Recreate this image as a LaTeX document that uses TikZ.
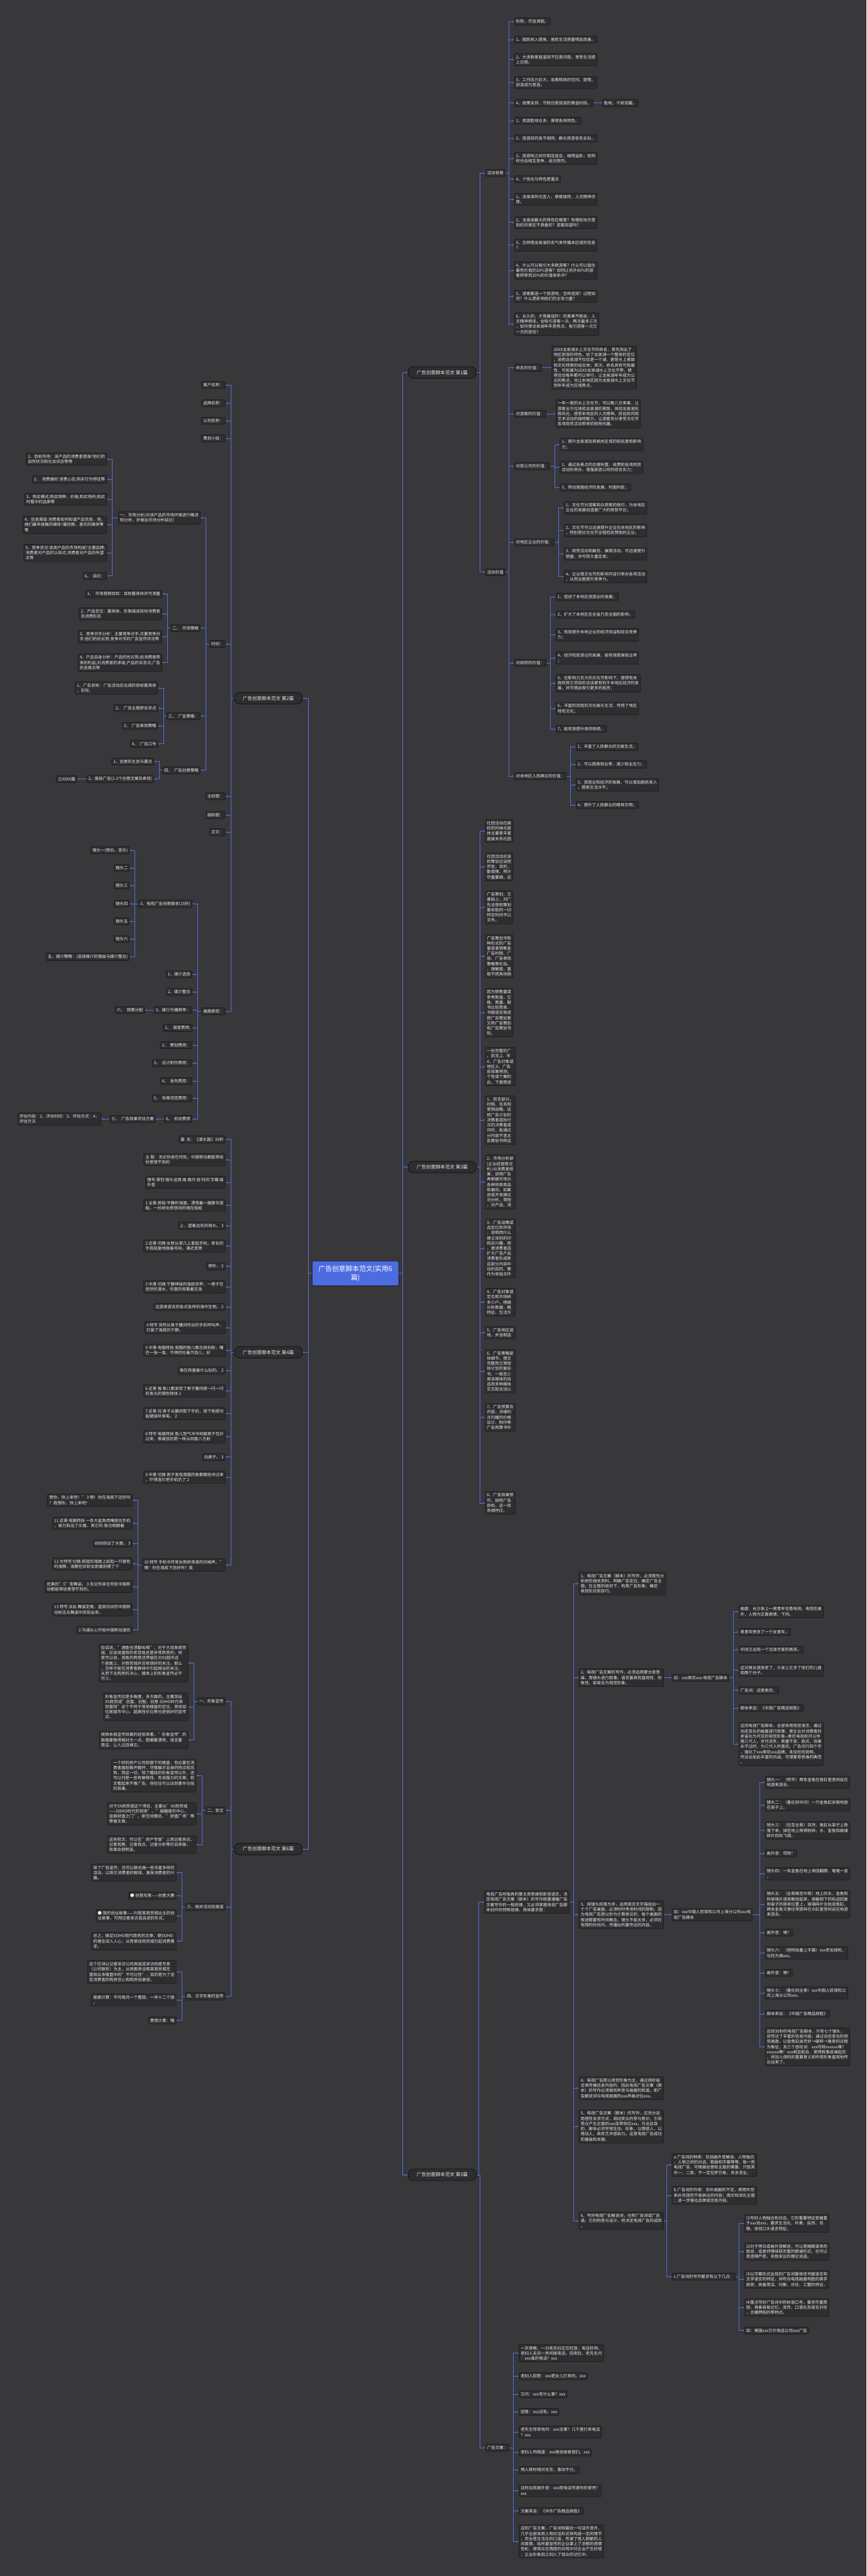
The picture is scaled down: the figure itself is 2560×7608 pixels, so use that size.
\documentclass[tikz,border=0pt]{standalone}
\usepackage{fontspec}
\setmainfont{Noto Sans CJK SC}
\usetikzlibrary{arrows.meta}
\definecolor{bg}{RGB}{56,55,58}
\definecolor{boxfill}{RGB}{46,45,48}
\definecolor{boxline}{RGB}{20,20,22}
\definecolor{txt}{RGB}{236,236,236}
\definecolor{lineblue}{RGB}{84,112,222}
\definecolor{rootblue}{RGB}{77,108,224}
\tikzset{
  box/.style={draw=boxline, fill=boxfill, rounded corners=3pt, text=txt, font=\fontsize{12pt}{15.3pt}\selectfont, align=left, inner xsep=5pt, inner ysep=5pt, line width=0.9pt},
  bnode/.style={draw=black, fill=boxfill, rounded corners=16pt, text=txt, font=\fontsize{14pt}{17pt}\selectfont, minimum width=202pt, minimum height=34pt, line width=1pt},
  rootnode/.style={draw=black, fill=rootblue, rounded corners=4pt, text=white, font=\fontsize{20pt}{25.5pt}\selectfont, align=center, minimum width=256pt, minimum height=73pt, line width=1pt},
  conn/.style={draw=lineblue, line width=1.4pt, -{Stealth[length=6pt,width=5pt]}},
}
\newcommand\linkR[2]{\foreach \cc in {#2}{\draw[conn] (#1.east) -| ([xshift=-16pt]\cc.west) -- (\cc.west);}}
\newcommand\linkL[2]{\foreach \cc in {#2}{\draw[conn] (#1.west) -| ([xshift=16pt]\cc.east) -- (\cc.east);}}
\begin{document}
\begin{tikzpicture}[x=1pt,y=-1pt]
\fill[bg] (0,0) rectangle (2560,7608);
\useasboundingbox (0,0) rectangle (2560,7608);
% root and branches
\node[rootnode] (root) at (1050,3761) {广告创意脚本范文(实用6\\篇)};
\node[bnode,anchor=west] (b1) at (1205,1100) {广告创意脚本范文 第1篇};
\node[bnode,anchor=west] (b3) at (1205,3447) {广告创意脚本范文 第3篇};
\node[bnode,anchor=west] (b5) at (1205,6423) {广告创意脚本范文 第5篇};
\node[bnode,anchor=east] (b2) at (894,2062) {广告创意脚本范文 第2篇};
\node[bnode,anchor=east] (b4) at (894,3994) {广告创意脚本范文 第4篇};
\node[bnode,anchor=east] (b6) at (894,5461) {广告创意脚本范文 第6篇};
\linkR{root}{b1,b3,b5}
\linkL{root}{b2,b4,b6}
% ===== 第1篇 =====
\node[box,anchor=west] (a1) at (1434,511) {活动背景};
\node[box,anchor=west] (a2) at (1434,1690) {活动价值};
\linkR{b1}{a1,a2}
\node[box,anchor=west] (g1) at (1519,64) {形势，尽显洒脱。};
\node[box,anchor=west] (g2) at (1519,117) {1、国民收入提高，居民生活质量明显改善。};
\node[box,anchor=west] (g3) at (1519,176) {2、大多数家庭温饱不在是问题，享受生活提\\上日程。};
\node[box,anchor=west] (g4) at (1519,244) {3、工作压力巨大，急需释放的空间，度假、\\旅游成为首选。};
\node[box,anchor=west] (g5) at (1519,304) {4、政策支持，节假日是旅游的黄金时段。};
\node[box,anchor=west] (g5a) at (1779,304) {胜地，千娇百媚。};
\node[box,anchor=west] (g6) at (1519,357) {1、旅游胜地众多，景观各具特色。};
\node[box,anchor=west] (g7) at (1519,409) {2、旅游目的各不相同，群众旅游各有去处。};
\node[box,anchor=west] (g8) at (1519,468) {3、旅游地之间可相互组合，相得益彰；但同\\时也会相互竞争，战况惨烈。};
\node[box,anchor=west] (g9) at (1519,529) {4、个性化与特色是重点};
\node[box,anchor=west] (g10) at (1519,589) {1、龙泉湖风光宜人，景致独特，人文精神浓\\厚。};
\node[box,anchor=west] (g11) at (1519,657) {2、龙泉湖最大的特色在哪里？有哪些地方是\\别的风景区不具备的？游客知道吗？};
\node[box,anchor=west] (g12) at (1519,724) {3、怎样借龙泉湖的名气来传播本区域的信息\\？};
\node[box,anchor=west] (g13) at (1519,799) {4、什么可以吸引大多数游客？什么可以留住\\最有价值的20\%游客？如何让另外80\%的游\\客转移到20\%的价值体系中？};
\node[box,anchor=west] (g14) at (1519,875) {5、游客要选一个旅游地，怎样选择？过程如\\何？什么是影响他们的主导力量？};
\node[box,anchor=west] (g15) at (1519,957) {6、长久的，才是最佳的！风景美不胜收，人\\文精神俱佳，会吸引游客一次、两次最多三次\\，如何使龙泉湖年年是焦点、吸引游客一次又\\一次的游览？};
\linkR{a1}{g1,g2,g3,g4,g5,g6,g7,g8,g9,g10,g11,g12,g13,g14,g15}
\linkR{g5}{g5a}
\node[box,anchor=west] (v1) at (1519,1086) {命名的价值：};
\node[box,anchor=west] (v2) at (1519,1222) {对游客的价值：};
\node[box,anchor=west] (v3) at (1519,1377) {对旅公司的价值：};
\node[box,anchor=west] (v4) at (1519,1602) {对地区企业的价值：};
\node[box,anchor=west] (v5) at (1519,1958) {对政府的价值：};
\node[box,anchor=west] (v6) at (1519,2292) {对本地区人民群众的价值：};
\linkR{a2}{v1,v2,v3,v4,v5,v6}
\node[box,anchor=west] (v1a) at (1630,1086) {20XX龙泉湖水上文化节的命名，首先突出了\\地区旅游的特色，给了龙泉湖一个整体的定位\\，说明龙泉湖不仅仅是一个湖，更是水上景致\\和文化特质的结合体；其次，命名具有可拓展\\性，可拓展为20XX龙泉湖水上文化节等，使\\得活动每年都可以举行，让龙泉湖年年成为公\\众的焦点，也让本地区因为龙泉湖水上文化节\\而年年成为区域焦点。};
\linkR{v1}{v1a}
\node[box,anchor=west] (v2a) at (1642,1222) {一年一度的水上文化节，可以聚八方来客，让\\游客全方位体验龙泉湖的景致，体验龙泉湖无\\限风光，感受本地区的人文精神、民俗民风和\\艺术活动的独特魅力，让游客充分享受文化节\\各项商贸活动带来的购物乐趣。};
\linkR{v2}{v2a}
\node[box,anchor=west] (v3a) at (1654,1313) {1、提升龙泉湖及其相关区域的知名度和影响\\力；};
\node[box,anchor=west] (v3b) at (1654,1380) {2、通过各景点的合理布置、收费和各项商贸\\活动的举办，增强旅游公司的综合实力；};
\node[box,anchor=west] (v3c) at (1654,1440) {3、带动周围经济的发展，利国利民；};
\linkR{v3}{v3a,v3b,v3c}
\node[box,anchor=west] (v4a) at (1666,1500) {1、文化节对游客和众商家的吸引，为本地区\\企业的发展创造更广大的商贸平台；};
\node[box,anchor=west] (v4b) at (1666,1567) {2、文化节可以迅速提升企业在本地区的影响\\，特别是对文化节全程冠名赞助的企业；};
\node[box,anchor=west] (v4c) at (1666,1636) {3、商贸活动和展览、展销活动，可迅速提升\\销量，并可获大量定单；};
\node[box,anchor=west] (v4d) at (1666,1703) {4、企业借文化节的影响可自行举办各项活动\\，从而全面提升竞争力。};
\linkR{v4}{v4a,v4b,v4c,v4d}
\node[box,anchor=west] (v5a) at (1642,1763) {1、促进了本地区旅游业的发展；};
\node[box,anchor=west] (v5b) at (1642,1815) {2、扩大了本地区在全省乃至全国的影响；};
\node[box,anchor=west] (v5c) at (1642,1875) {3、有效提升本地企业的经济效益和综合竞争\\力；};
\node[box,anchor=west] (v5d) at (1642,1943) {4、经济和旅游业的发展，能有效提高就业率\\；};
\node[box,anchor=west] (v5e) at (1642,2018) {5、在影响力巨大的文化节影响下，使得有关\\政府其它项目的洽谈更有利于本地区经济的发\\展，并可借此吸引更多的投资；};
\node[box,anchor=west] (v5f) at (1642,2093) {6、丰富的百姓的文化娱乐生活，传扬了地区\\特有文化；};
\node[box,anchor=west] (v5g) at (1642,2153) {7、能有效提升政府政绩。};
\linkR{v5}{v5a,v5b,v5c,v5d,v5e,v5f,v5g}
\node[box,anchor=west] (v6a) at (1701,2206) {1、丰富了人民群众的文娱生活；};
\node[box,anchor=west] (v6b) at (1701,2258) {2、可以提高就业率，减少就业压力；};
\node[box,anchor=west] (v6c) at (1701,2318) {3、旅游业和经济的发展，可以增加居民收入\\，提高生活水平；};
\node[box,anchor=west] (v6d) at (1701,2378) {4、提升了人民群众的精神文明；};
\linkR{v6}{v6a,v6b,v6c,v6d}
% ===== 第2篇 =====
\node[box,anchor=east] (k1) at (666,1137) {客户名称：};
\node[box,anchor=east] (k2) at (666,1191) {品牌名称：};
\node[box,anchor=east] (k3) at (666,1243) {公司名称：};
\node[box,anchor=east] (k4) at (666,1295) {策划小组：};
\node[box,anchor=east] (k5) at (666,1902) {时间：};
\node[box,anchor=east] (k6) at (666,2352) {主标题：};
\node[box,anchor=east] (k7) at (666,2407) {副标题：};
\node[box,anchor=east] (k8) at (666,2458) {正文：};
\node[box,anchor=east] (k9) at (666,2987) {画面表现：};
\linkL{b2}{k1,k2,k3,k4,k5,k6,k7,k8,k9}
\node[box,anchor=east] (m1) at (592,1529) {一、市场分析(对该产品的市场环境进行概述\\和分析，并做出市场分析结论)};
\node[box,anchor=east] (m2) at (592,1855) {二、~~市场策略};
\node[box,anchor=east] (m3) at (592,2115) {三、~~广告策略：};
\node[box,anchor=east] (m4) at (592,2275) {四、~~广告创意策略};
\linkL{k5}{m1,m2,m3,m4}
\node[box,anchor=east] (m1a) at (316,1356) {1、目标市场：该产品的消费者是谁?他们的\\自然状况和社会状态等等};
\node[box,anchor=east] (m1b) at (316,1416) {2、~~消费偏好:消费心态;购买行为特征等};
\node[box,anchor=east] (m1c) at (316,1475) {3、购买模式:购买频率、价格;购买场所;购买\\时看中的品质等};
\node[box,anchor=east] (m1d) at (316,1550) {4、信息渠道:消费者如何知道产品信息，他、\\她们最早接触的媒体?最信赖、喜欢的媒体等\\等};
\node[box,anchor=east] (m1e) at (316,1633) {5、竞争状况:该类产品的市场构成?主要品牌;\\消费者对产品的认知点;消费者对产品的失望\\点等};
\node[box,anchor=east] (m1f) at (316,1701) {6、~~结论：};
\linkL{m1}{m1a,m1b,m1c,m1d,m1e,m1f}
\node[box,anchor=east] (m2a) at (479,1754) {1、~~市场营销目标：目标要具体并可测量};
\node[box,anchor=east] (m2b) at (479,1813) {2、产品定位：要具体、形象描述目标消费者\\及消费形态};
\node[box,anchor=east] (m2c) at (479,1881) {3、竞争对手分析：主要竞争对手;次要竞争对\\手;他们的优劣势;竞争对手的广告宣传状况等};
\node[box,anchor=east] (m2d) at (479,1957) {4、产品自身分析：产品的优劣势;给消费者带\\来的利益;对消费者的承诺;产品的诉求点;广告\\的支撑点等};
\linkL{m2}{m2a,m2b,m2c,m2d}
\node[box,anchor=east] (m3a) at (467,2032) {1、广告目标：广告活动应达成的目标要具体\\、实际;};
\node[box,anchor=east] (m3b) at (467,2092) {2、~~广告主题即诉求点};
\node[box,anchor=east] (m3c) at (467,2144) {3、~~广告表现策略};
\node[box,anchor=east] (m3d) at (467,2197) {4、~~广告口号};
\linkL{m3}{m3a,m3b,m3c,m3d}
\node[box,anchor=east] (m4a) at (455,2249) {1、创意的主旨与要点};
\node[box,anchor=east] (m4b) at (455,2301) {2、报纸广告(1-2个创意文案及表现)};
\linkL{m4}{m4a,m4b}
\node[box,anchor=east] (m4c) at (228,2301) {之XXXX篇};
\linkL{m4b}{m4c}
\node[box,anchor=east] (p1) at (568,2669) {3、电视广告创意脚本(15秒)};
\node[box,anchor=east] (p2) at (568,2878) {1、媒介选择};
\node[box,anchor=east] (p3) at (568,2930) {2、媒介整合};
\node[box,anchor=east] (p4) at (568,2983) {3、媒介刊播频率：};
\node[box,anchor=east] (p5) at (568,3036) {1、~~调查费用;};
\node[box,anchor=east] (p6) at (568,3087) {2、~~策划费用：};
\node[box,anchor=east] (p7) at (568,3140) {3、~~设计制作费用：};
\node[box,anchor=east] (p8) at (568,3193) {4、~~发布费用：};
\node[box,anchor=east] (p9) at (568,3244) {5、~~效果测定费用：};
\node[box,anchor=east] (p10) at (568,3305) {6、~~机动费用};
\linkL{k9}{p1,p2,p3,p4,p5,p6,p7,p8,p9,p10}
\node[box,anchor=east] (q1) at (383,2511) {镜头一(旁白、音乐)};
\node[box,anchor=east] (q2) at (383,2564) {镜头二};
\node[box,anchor=east] (q3) at (383,2615) {镜头三};
\node[box,anchor=east] (q4) at (383,2669) {镜头四};
\node[box,anchor=east] (q5) at (383,2721) {镜头五};
\node[box,anchor=east] (q6) at (383,2773) {镜头六};
\node[box,anchor=east] (q7) at (383,2826) {五、媒介策略：(选择媒介的理由与媒介整合)};
\linkL{p1}{q1,q2,q3,q4,q5,q6,q7}
\node[box,anchor=east] (p4a) at (428,2983) {六、~~预算分配};
\linkL{p4}{p4a}
\node[box,anchor=east] (p10a) at (460,3305) {七、~~广告效果评估方案};
\linkL{p10}{p10a}
\node[box,anchor=east] (p10b) at (299,3305) {评估内容：2、评估时间：3、评估方式：4、\\评估方法};
\linkL{p10a}{p10b}
% ===== 第4篇 =====
\node[box,anchor=east] (s1) at (666,3365) {篇~~名：《潜水篇》30秒};
\node[box,anchor=east] (s2) at (666,3425) {主~题：无论你身在何处，中国移动都能带给\\你意想不到的};
\node[box,anchor=east] (s3) at (666,3492) {镜号~景别~镜头运用~画~面内~容~时间~字幕~画\\外音};
\node[box,anchor=east] (s4) at (666,3560) {1~全景~俯拍~平静的海面，漂荡着一艘豪华游\\艇。一妙龄女郎悠闲的倚在船舷};
\node[box,anchor=east] (s5) at (666,3620) {上，望着远处的海水。~3};
\node[box,anchor=east] (s6) at (666,3680) {2~近景~切换~女郎从茶几上拿起手机，修长的\\手指轻盈地拨着号码，凑近耳旁};
\node[box,anchor=east] (s7) at (666,3740) {倾听，~2};
\node[box,anchor=east] (s8) at (666,3801) {3~中景~切换~宁静神秘的海底世界，一男子在\\悠然的潜水，欣喜的观看着在身};
\node[box,anchor=east] (s9) at (666,3860) {边游来游去的各式各样的海中生物。~2};
\node[box,anchor=east] (s10) at (666,3921) {4~特写~突然从男子腰间传出的手机呼叫声，\\打破了海底的宁静。};
\node[box,anchor=east] (s11) at (666,3988) {5~中景~电脑特技~周围的鱼儿都左顾右盼，嘴\\巴一张一翕，不停的吐着汽泡儿，好};
\node[box,anchor=east] (s12) at (666,4048) {像在商量着什么似的。~2};
\node[box,anchor=east] (s13) at (666,4108) {6~近景~推~鱼儿都发现了男子腰间那一闪一闪\\的发光的银色物体~2};
\node[box,anchor=east] (s14) at (666,4175) {7~近景~拉~男子从腰间取下手机，按下免提功\\能键接听来电。~2};
\node[box,anchor=east] (s15) at (666,4243) {8~特写~电脑特技~鱼儿怒气冲冲地朝男子包抄\\过来，像离弦的箭一样从四面八方射};
\node[box,anchor=east] (s16) at (666,4303) {向男子。~3};
\node[box,anchor=east] (s17) at (666,4363) {9~中景~切换~男子发现周围的鱼都朝他冲过来\\，吓得连忙把手机仍了~2};
\node[box,anchor=east] (s18) at (666,4622) {10~特写~手机中传来女郎娇滴滴的问候声。"\\喂！你在海底下还好吗？我};
\linkL{b4}{s1,s2,s3,s4,s5,s6,s7,s8,s9,s10,s11,s12,s13,s14,s15,s16,s17,s18}
\node[box,anchor=east] (u1) at (391,4431) {想你，快上来吧！"~3~喂！你在海底下还好吗\\？我想你，快上来吧！};
\node[box,anchor=east] (u2) at (391,4499) {11~近景~电脑特技~一条大鲨鱼用嘴接住手机\\，奋力跃出了水面，其它的.鱼也相跟着};
\node[box,anchor=east] (u3) at (391,4559) {纷纷跃出了水面。~3};
\node[box,anchor=east] (u4) at (391,4619) {12~大特写~切换~蔚蓝的海面上跃起一只银色\\的海豚，海豚在妙龄女郎面前摆了个};
\node[box,anchor=east] (u5) at (391,4686) {优美的"S"型舞姿。~3~无论你身在何处中国移\\动都能带给意想不到的。};
\node[box,anchor=east] (u6) at (391,4754) {13~特写~淡出~舞姿定格，蓝底白纹的中国移\\动标志从舞姿中突现出来。};
\node[box,anchor=east] (u7) at (391,4814) {2~沟通从心开始中国移动通信};
\linkL{s18}{u1,u2,u3,u4,u5,u6,u7}
% ===== 第6篇 =====
\node[box,anchor=east] (w1) at (666,5025) {一、形象宣传};
\node[box,anchor=east] (w2) at (666,5347) {二、软文};
\node[box,anchor=east] (w3) at (666,5632) {三、相关活动及报道};
\node[box,anchor=east] (w4) at (666,5896) {四、文字形象的宣传};
\linkL{b6}{w1,w2,w3,w4}
\node[box,anchor=east] (w1a) at (556,4912) {俗话说，"酒香也须勤吆喝"，对于大润发商贸\\城，应该说富阳的老百姓还是非常熟悉的。但\\是可以说，百姓的熟悉还停留在对XX超市这\\个层面上，对商贸城并没有很好的关注。那么\\，怎样才能在消费者群体中引起相当的关注，\\从而下达购房的决心，媒体上的形象宣传必不\\可少。};
\node[box,anchor=east] (w1b) at (556,5041) {形象宣传应是多角度、多方面的。主要突出\\XX商贸城"创富、创智、创意~SOHO时代来\\到富阳"这个不同于其他楼盘的定位，其他如\\位居城市中心、超高性价比等也是很好的宣传\\点。};
\node[box,anchor=east] (w1c) at (556,5139) {按照本报宣传效果的经验来看，"形象宣传"的\\版面要做得相对大一点，图案要漂亮，语言要\\简洁，让人过目难忘。};
\linkL{w1}{w1a,w1b,w1c}
\node[box,anchor=east] (w2a) at (580,5244) {一个好的房产公司和旗下的楼盘，有必要在消\\费者面前敞开胸怀，尽情展示自身的特点和优\\势。而这一切，除了醒目的形象宣传以外，还\\可以刊登一些有解释性、有说服力的文章。软\\文看起来不像广告，但往往可以达到事半功倍\\的效果。};
\node[box,anchor=east] (w2b) at (580,5357) {对于XX商贸城这个项目，主要从"XX商贸城\\——SOHO时代的到来"、"雄踞城市中心，\\显赫财富之门"、新空间理念、"财富广场"等\\等做文章。};
\node[box,anchor=east] (w2c) at (580,5448) {这些软文，可以在"房产专版"上用记者采访、\\记者观察、记者视点、记者分析等栏目来做，\\效果会很明显。};
\linkL{w2}{w2a,w2b,w2c}
\node[box,anchor=east] (w3a) at (521,5531) {除了广告宣传，还可以联合搞一些丰富多样的\\活动，以吸引消费者的眼球、激发消费者的兴\\趣。};
\node[box,anchor=east] (w3b) at (521,5599) {● 创意无限——创意大赛};
\node[box,anchor=east] (w3c) at (521,5658) {● 我的创业故事——刊登某商贸城业主的创\\业故事，可用记者采访或自述的形式。};
\node[box,anchor=east] (w3d) at (521,5733) {总之，做足SOHO现代商务的文章，使SOHO\\的理念深入人心，从而使该商贸城引起消费需\\求。};
\linkL{w3}{w3a,w3b,w3c,w3d}
\node[box,anchor=east] (w4a) at (521,5824) {这个区块以记者采访公司高层或采访权威专家\\（公司联系）为主，从侧面来诠释某商贸城在\\富阳众多楼盘中的"不可比性"，目的是为了坚\\定消费者的购房信心和购房自豪感。};
\node[box,anchor=east] (w4b) at (521,5907) {版面计算：平均每月一个整版，一年十二个版\\。};
\node[box,anchor=east] (w4c) at (521,5967) {费用计算：略};
\linkL{w4}{w4a,w4b,w4c}
% ===== 第3篇 =====
\node[box,anchor=west] (t1) at (1433,2454) {社团活动在高\\校的时候也尝\\体主要是丰富\\直接关系社团};
\node[box,anchor=west] (t2) at (1433,2560) {社团活动应该\\的策划应该把\\宗旨，目的，\\勤保障、预计\\尽量要细，这};
\node[box,anchor=west] (t3) at (1433,2680) {广告策划，又\\基础上，对广\\先设想和策划\\要采取的一切\\特定时间予以\\文件。};
\node[box,anchor=west] (t4) at (1433,2824) {广告策划书有\\种形式的广告\\量或者销售金\\广告时限、广\\容、广告表现\\策略等栏目。\\、理解度、喜\\般不把具体销};
\node[box,anchor=west] (t5) at (1433,2991) {因为销售量或\\参考数值，它\\格、质量、服\\书比较简单，\\书面语言叙述\\把广告策划意\\又称广告策划\\和广告策划书\\别。};
\node[box,anchor=west] (t6) at (1433,3150) {一份完整的广\\、前言;2、市\\4、广告对象或\\地区;6、广告\\告效果预测。\\个性或个案的\\此。下面简述};
\node[box,anchor=west] (t7) at (1433,3308) {1、前言部分，\\时限、任务和\\营销战略。这\\把广告计划的\\决策者或执行\\次的决策者或\\问时，能通过\\分内容不宜太\\告策划书称这};
\node[box,anchor=west] (t8) at (1433,3491) {2、市场分析部\\)企业经营情况\\析;(4)消费者研\\果，说明广告\\再根据市场分\\各种同类商品\\和偏向。如果\\进或开发建议\\况分析，简短\\，对产品、消};
\node[box,anchor=west] (t9) at (1433,3687) {3、广告战略或\\品定位和市场\\，说明用什么\\建立深刻的印\\购买兴趣，用\\，使消费者选\\扩大广告产品\\消费者形成新\\这部分内容中\\动的目的、策\\作为单独文件};
\node[box,anchor=west] (t10) at (1433,3846) {4、广告对象或\\定位和市场研\\多少户。根据\\分析数据，概\\特征、生活方};
\node[box,anchor=west] (t11) at (1433,3936) {5、广告地区或\\场，并说明选};
\node[box,anchor=west] (t12) at (1433,4050) {6、广告策略部\\体细节。撰文\\完整而又简短\\体计划的复杂\\书。一般至少\\用该媒体的目\\选用多种媒体\\交叉配合加以};
\node[box,anchor=west] (t13) at (1433,4186) {7、广告预算及\\内容，详细列\\次刊播的价格\\设计、制作等\\广告预算书中};
\node[box,anchor=west] (t14) at (1433,4439) {8、广告效果预\\可，按照广告\\目标。这一目\\务相呼应。};
\linkR{b3}{t1,t2,t3,t4,t5,t6,t7,t8,t9,t10,t11,t12,t13,t14}
% ===== 第5篇 =====
\node[box,anchor=east] (lt) at (1682,5618) {电视广告所独具的蒙太奇思维和影视语言，决\\定电视广告文案（脚本）的写作既要遵循广告\\文案写作的一般规律，又必须掌握电视广告脚\\本创作的特殊规律。具体要求是：};
\node[box,anchor=west] (ad) at (1434,7229) {广告文案：};
\linkR{b5}{lt,ad}
\node[box,anchor=west] (r1) at (1710,4677) {1、电视广告文案（脚本）的写作，必须首先分\\析研究相关资料，明确广告定位，确定广告主\\题。在主题的统帅下，构思广告形象，确定\\表现形式和技巧。};
\node[box,anchor=west] (r2) at (1710,4955) {2、电视广告文案的写作，必须运用蒙太奇思\\维，用镜头进行叙事。语言要具有直观性、形\\象性，容易化为视觉形象。};
\node[box,anchor=west] (r3) at (1710,5655) {3、按镜头段落为序，运用语言文字描绘出一\\个个广告画面，必须时时考虑时间的限制。因\\为电视广告是以秒为计算单位的，每个画面的\\叙述都要有时间概念。镜头不能太多，必须在\\有限的时间内，传播出所要传达的内容。};
\node[box,anchor=west] (r4) at (1710,6167) {4、电视广告是以视觉形象为主，通过视听结\\合来传播信息内容的，因此电视广告文案（脚\\本）的写作必须做到声音与画面的和谐，即广\\告解说词与电视画面的xxx声画对位xxx。};
\node[box,anchor=west] (r5) at (1710,6280) {5、电视广告文案（脚本）的写作，应充分运\\用感性诉求方式，调动受众的参与意识，引导\\受众产生正面的xxx连带效应xxx。为达此目\\的，脚本必须写得生动、形象，以情感人，以\\情动人，具有艺术感染力。这是电视广告成功\\的基础和关键。};
\node[box,anchor=west] (r6) at (1710,6559) {6、写好电视广告解说词，也称广告词或广告\\语。它的构思与设计，将决定电视广告的成败\\。};
\linkR{lt}{r1,r2,r3,r4,r5,r6}
\node[box,anchor=west] (r2a) at (1985,4955) {如：xxx索尼xxx 电视广告脚本};
\linkR{r2}{r2a}
\node[box,anchor=west] (x1) at (2182,4760) {画面：长沙发上一男青年在看电视。电视在画\\外，人物为正面表情，下同。};
\node[box,anchor=west] (x2) at (2182,4820) {男青年旁多了一个女青年。};
\node[box,anchor=west] (x3) at (2182,4872) {中间又出现一个活泼可爱的男孩。};
\node[box,anchor=west] (x4) at (2182,4933) {这对男女逐渐老了。沙发上又多了他们的儿媳\\和两个孙子。};
\node[box,anchor=west] (x5) at (2182,4992) {广告词：这是索尼。};
\node[box,anchor=west] (x6) at (2182,5045) {脚本来自：《中国广告精品探胜》};
\node[box,anchor=west] (x7) at (2182,5151) {这则电视广告脚本，全部采用视觉语言，通过\\动态变化的画面进行叙事，使企业对消费者的\\承诺化为可见的视觉形象-{}-索尼电视机可以伴\\随三代人。岁月流失，质量不变，款式、效果\\永不过时，为三代人所喜欢。广告词只四个字\\，强化了xxx索尼xxx品牌。未加任何说明，\\传达出如此丰富的内涵，可谓蒙奇思维的典范\\。};
\linkR{r2a}{x1,x2,x3,x4,x5,x6,x7}
\node[box,anchor=west] (r3a) at (1985,5655) {如：xxx中国人民保险公司上海分公司xxx电\\视广告脚本};
\linkR{r3}{r3a}
\node[box,anchor=west] (y1) at (2260,5264) {镜头一：（特写）两条金鱼在鱼缸里悠闲自在\\地游来游去。};
\node[box,anchor=west] (y2) at (2260,5331) {镜头二：（叠化到中间）一只金鱼缸安稳地放\\在架子上。};
\node[box,anchor=west] (y3) at (2260,5406) {锐头三：（拉至全景）突然，鱼缸从架子上跌\\落下来，掉在地上摔得粉碎，水、金鱼和玻璃\\碎片四处飞溅。};
\node[box,anchor=west] (y4) at (2260,5474) {画外音：哎呀！};
\node[box,anchor=west] (y5) at (2260,5534) {镜头四：一条金鱼在地上来回翻腾，奄奄一息\\。};
\node[box,anchor=west] (y6) at (2260,5624) {镜头五：（全景推至中景）地上的水、金鱼和\\碎玻璃片逐渐聚拢起来，顺着倒下的轨迹回复\\到架子的原来位置上，玻璃碎片合拢成鱼缸，\\两条金鱼又像往常那样在水缸里悠闲自在地游\\来游去。};
\node[box,anchor=west] (y7) at (2260,5708) {画外音：咦？};
\node[box,anchor=west] (y8) at (2260,5768) {镜头六：（用特技叠上字幕）xxx参加保险，\\化险为夷xxx。};
\node[box,anchor=west] (y9) at (2260,5827) {画外音：噢！};
\node[box,anchor=west] (y10) at (2260,5886) {镜头七：（叠化到全景）xxx中国人民保险公\\司上海分公司xxx。};
\node[box,anchor=west] (y11) at (2260,5948) {脚本来自：《中国广告精品探胜》};
\node[box,anchor=west] (y12) at (2260,6045) {这则30秒的电视广告脚本，只有七个镜头，\\却传达了丰富的信息内容。通过动态变化的视\\觉画面，以金鱼缸由完好→破碎→复原的过程\\为象征，及三个感叹词：xxx哎呀xxxxxx咦？\\xxxxxx噢！xxx相互配合，使得叙事波澜起伏\\，将加入保险的重要意义和作用形象直观地传\\达出来了。};
\linkR{r3a}{y1,y2,y3,y4,y5,y6,y7,y8,y9,y10,y11,y12}
\node[box,anchor=west] (z1) at (1985,6394) {a.广告词的种类：包括画外音解说、人物独白\\、人物之间的对话、歌曲和字幕等等。每一则\\电视广告，可根据创意和主题的需要，只取其\\中一、二类，不一定包罗万象，贪多求全。};
\node[box,anchor=west] (z2) at (1985,6484) {b.广告词的作用：弥补画面的不足，即用听觉\\来补充视觉不易表达的内容；揭示和深化主题\\；进一步强化品牌或信息内容。};
\node[box,anchor=west] (z3) at (1985,6724) {c.广告词的写作要求有以下几点：};
\linkR{r6}{z1,z2,z3}
\node[box,anchor=west] (z3a) at (2199,6567) {⑴写好人物独白和对话，它的重要特征是偏重\\于xxx说xxx，要求生活化、朴素、自然、流\\畅，体现口头语言特征。};
\node[box,anchor=west] (z3b) at (2199,6650) {⑵对于旁白或画外音解说，可以是娓娓道来的\\叙说，或者抒情味较浓重的朗诵形式，也可以\\是逻辑严密、夹叙夹议的理论说道。};
\node[box,anchor=west] (z3c) at (2199,6732) {⑶以字幕形式出现的广告词要体现书面语言和\\文学语言的特征，并符合电视画面构图的美学\\原则，具备简洁、均衡、对仗、工整的特征。};
\node[box,anchor=west] (z3d) at (2199,6815) {⑷重点写好广告词中的标语口号，要求尽量简\\短，具备容易记忆、流传、口语化及语言对仗\\，合辙押韵的等特点。};
\node[box,anchor=west] (z3e) at (2199,6883) {如：美国xxx贝尔电话公司xxx广告};
\linkR{z3}{z3a,z3b,z3c,z3d,z3e}
\node[box,anchor=west] (h1) at (1533,6950) {一天傍晚，一对老夫妇正在吃饭，电话铃响，\\老妇人去另一房间接电话。回来后，老先生问\\：xxx谁的电话？xxx};
\node[box,anchor=west] (h2) at (1533,7018) {老妇人回答：xxx是女儿打来的。xxx};
\node[box,anchor=west] (h3) at (1533,7071) {又问：xxx有什么事？xxx};
\node[box,anchor=west] (h4) at (1533,7123) {回答：xxx没有。xxx};
\node[box,anchor=west] (h5) at (1533,7183) {老先生惊奇地问：xxx没事？几千里打来电话\\？xxx};
\node[box,anchor=west] (h6) at (1533,7243) {老妇人呜咽道：xxx她说她爱我们。xxx};
\node[box,anchor=west] (h7) at (1533,7295) {两人顿时相对无言，激动不已。};
\node[box,anchor=west] (h8) at (1533,7356) {这时出现画外音：xxx用电话传递你的爱吧！\\xxx};
\node[box,anchor=west] (h9) at (1533,7416) {文案来自：《中外广告精品探胜》};
\node[box,anchor=west] (h10) at (1533,7506) {这则广告文案，广告词除最后一句话外音外，\\几乎全部采用人物对话形式来构成一定的情节\\，完全是生活化的口语，传递了感人肺腑的人\\间真情，给所要宣传的企业罩上了浓郁的感情\\色彩，使观众在情感的共鸣中对企业产生好感\\，企业形象因之刻入了观众的记忆中。};
\linkR{ad}{h1,h2,h3,h4,h5,h6,h7,h8,h9,h10}
\end{tikzpicture}
\end{document}
